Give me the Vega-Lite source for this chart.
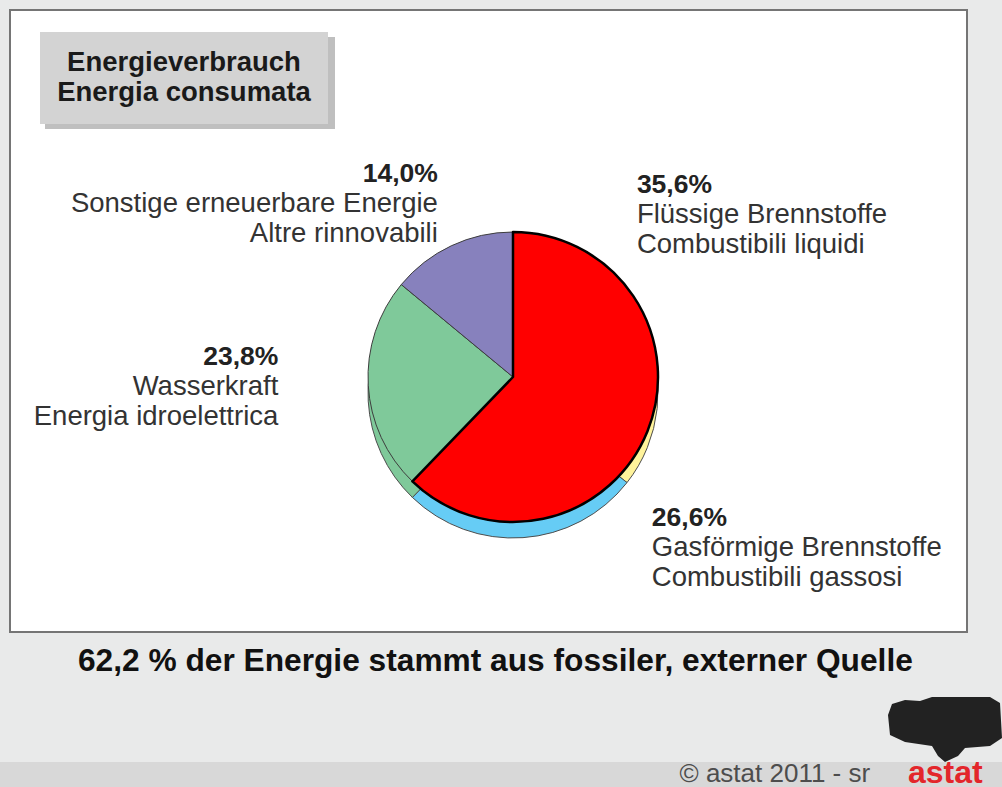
{
  "$schema": "https://vega.github.io/schema/vega-lite/v6.json",
  "width": 957,
  "height": 622,
  "autosize": {"type": "none"},
  "padding": {"left": 10, "top": 10, "right": 35, "bottom": 155},
  "background": "#e9eaea",
  "view": {"fill": "#ffffff", "stroke": "#757575", "strokeWidth": 2},
  "config": {
    "view": {"fill": "#ffffff", "stroke": "#757575", "strokeWidth": 2},
    "legend": {"gradientHorizontalMaxLength": 1100, "gradientHorizontalMinLength": 10}
  },
  "datasets": {
    "top": [
      {"cat": "Fossil", "v": 62.2, "o": 1},
      {"cat": "Wasser", "v": 23.8, "o": 2},
      {"cat": "Sonstige", "v": 14.0, "o": 3}
    ],
    "rim": [
      {"cat": "Flüssige", "v": 35.6, "o": 1, "pct": "35,6%", "name": "Flüssige Brennstoffe\nCombustibili liquidi"},
      {"cat": "Gas", "v": 26.6, "o": 2, "pct": "26,6%", "name": "Gasförmige Brennstoffe\nCombustibili gassosi"},
      {"cat": "Wasser", "v": 23.8, "o": 3, "pct": "23,8%", "name": "Wasserkraft\nEnergia idroelettrica"},
      {"cat": "Sonstige", "v": 14.0, "o": 4, "pct": "14,0%", "name": "Sonstige erneuerbare Energie\nAltre rinnovabili"}
    ]
  },
  "layer": [
    {
      "data": {"name": "rim"},
      "mark": {"type": "arc", "radius": 145, "xOffset": 24.5, "yOffset": 72, "stroke": "#4d4d4d", "strokeWidth": 1},
      "encoding": {
        "theta": {"field": "v", "type": "quantitative", "stack": true},
        "order": {"field": "o", "type": "quantitative"},
        "color": {
          "field": "cat", "type": "nominal",
          "scale": {"domain": ["Flüssige", "Gas", "Wasser", "Sonstige"], "range": ["#fff39b", "#66ccf5", "#7fc99a", "#8781bd"]},
          "legend": {
            "orient": "none", "legendX": 68, "legendY": 636,
            "title": "62,2 % der Energie stammt aus fossiler, externer Quelle",
            "titleFont": "Liberation Sans", "titleFontSize": 31.7, "titleFontWeight": "bold", "titleColor": "#111111",
            "titleLimit": 1200, "titlePadding": 0, "padding": 0,
            "values": ["Flüssige"], "symbolSize": 0, "symbolOpacity": 0, "symbolStrokeWidth": 0,
            "labelExpr": "''", "labelFontSize": 1, "direction": "horizontal", "zindex": 1
          }
        }
      }
    },
    {
      "data": {"name": "top"},
      "mark": {"type": "arc", "radius": 145, "xOffset": 24.5, "yOffset": 56, "stroke": "#3d3d3d", "strokeWidth": 1},
      "encoding": {
        "theta": {"field": "v", "type": "quantitative", "stack": true},
        "order": {"field": "o", "type": "quantitative"},
        "color": {
          "field": "cat", "type": "nominal",
          "scale": {"domain": ["Fossil", "Wasser", "Sonstige"], "range": ["#ff0000", "#7fc99a", "#8781bd"]},
          "legend": {
            "orient": "none", "legendX": 30, "legendY": 22,
            "title": ["Energieverbrauch", "Energia consumata"],
            "titleFont": "Liberation Sans", "titleFontSize": 27.5, "titleFontWeight": "bold", "titleColor": "#1a1a1a",
            "titleLineHeight": 30, "titleAlign": "center", "titleAnchor": "middle", "titleLimit": 1000, "titlePadding": 0,
            "fillColor": "#d3d3d3", "padding": 17,
            "values": ["Fossil"], "symbolSize": 0, "symbolOpacity": 0, "symbolStrokeWidth": 0,
            "labelExpr": "''", "labelFontSize": 1, "direction": "horizontal", "zindex": 1
          }
        }
      }
    },
    {
      "data": {"name": "top"},
      "mark": {"type": "arc", "radius": 145, "xOffset": 24.5, "yOffset": 56, "fillOpacity": 0, "stroke": "#000000", "strokeWidth": 2.5, "strokeJoin": "round"},
      "encoding": {
        "theta": {"field": "v", "type": "quantitative", "stack": true},
        "order": {"field": "o", "type": "quantitative"},
        "detail": {"field": "cat", "type": "nominal"},
        "strokeOpacity": {"condition": {"test": "datum.cat === 'Fossil'", "value": 1}, "value": 0}
      }
    },
    {
      "data": {"name": "rim"},
      "mark": {
        "type": "text", "radius": 200, "xOffset": 24.5, "yOffset": 56, "strokeWidth": 0,
        "font": "Liberation Sans", "fontSize": 26.5, "fontWeight": "bold", "baseline": "alphabetic",
        "align": {"expr": "datum.cat === 'Flüssige' || datum.cat === 'Gas' ? 'left' : 'right'"},
        "dx": {"expr": "datum.cat === 'Sonstige' ? 10 : datum.cat === 'Flüssige' ? -56 : datum.cat === 'Wasser' ? -35 : 125"},
        "dy": {"expr": "datum.cat === 'Sonstige' ? -14 : datum.cat === 'Flüssige' ? -96.6 : datum.cat === 'Wasser' ? -23.3 : -50.5"}
      },
      "encoding": {
        "theta": {"field": "v", "type": "quantitative", "stack": true},
        "order": {"field": "o", "type": "quantitative"},
        "text": {"field": "pct", "type": "nominal"},
        "color": {
          "field": "cat", "type": "nominal",
          "scale": {"range": ["#222222"]},
          "legend": {
            "orient": "none", "legendX": 898, "legendY": 731.7,
            "title": "astat", "titleFont": "Liberation Sans", "titleFontSize": 32, "titleFontWeight": "bold", "titleColor": "#e3262b",
            "titleOrient": "bottom", "titlePadding": -4, "padding": 0,
            "values": ["Flüssige"],
            "symbolType": "M-5,-6.34 L-4.2,-8.54 L-1.6,-9.34 L1.4,-9.14 L3.8,-9.94 L15.4,-9.94 L17.4,-8.74 L17.8,-1.74 L15.4,-0.14 L10.4,0.26 L9,1.86 L6.4,3.06 L5,1.86 L3.8,-0.14 L-1.6,-0.94 L-4.6,-2.34 Z",
            "symbolSize": 100, "symbolStrokeWidth": 0, "symbolOpacity": 1,
            "labelExpr": "''", "labelFontSize": 1, "zindex": 2
          }
        },
        "stroke": {
          "field": "v", "type": "quantitative",
          "scale": {"range": ["#bfbfbf", "#bfbfbf"]},
          "legend": {
            "orient": "none", "legendX": 35, "legendY": 27, "direction": "horizontal",
            "gradientLength": 290, "gradientThickness": 92, "title": null,
            "labelExpr": "''", "labelFontSize": 1, "values": [],
            "gradientStrokeWidth": 0, "padding": 0, "zindex": 0
          }
        }
      }
    },
    {
      "data": {"name": "rim"},
      "mark": {
        "type": "text", "radius": 200, "xOffset": 24.5, "yOffset": 56,
        "font": "Liberation Sans", "fontSize": 27.5, "baseline": "alphabetic", "lineBreak": "\n", "lineHeight": 30, "strokeWidth": 0,
        "align": {"expr": "datum.cat === 'Flüssige' || datum.cat === 'Gas' ? 'left' : 'right'"},
        "dx": {"expr": "datum.cat === 'Sonstige' ? 10 : datum.cat === 'Flüssige' ? -56 : datum.cat === 'Wasser' ? -35 : 125"},
        "dy": {"expr": "datum.cat === 'Sonstige' ? 16 : datum.cat === 'Flüssige' ? -66.6 : datum.cat === 'Wasser' ? 6.7 : -20.5"}
      },
      "encoding": {
        "theta": {"field": "v", "type": "quantitative", "stack": true},
        "order": {"field": "o", "type": "quantitative"},
        "text": {"field": "name", "type": "nominal"},
        "color": {
          "field": "cat", "type": "nominal",
          "scale": {"range": ["#333333"]},
          "legend": {
            "orient": "none", "legendX": 669.5, "legendY": 751,
            "title": "©  astat 2011 - sr", "titleFont": "Liberation Sans", "titleFontSize": 26, "titleFontWeight": "normal", "titleColor": "#4d4d4d",
            "titlePadding": 0, "padding": 0, "titleLimit": 1000,
            "values": ["Flüssige"], "symbolSize": 0, "symbolOpacity": 0, "symbolStrokeWidth": 0,
            "labelExpr": "''", "labelFontSize": 1, "zindex": 1
          }
        },
        "stroke": {
          "field": "v", "type": "quantitative",
          "scale": {"range": ["#d8d8d8", "#d8d8d8"]},
          "legend": {
            "orient": "none", "legendX": -10, "legendY": 752, "direction": "horizontal",
            "gradientLength": 1002, "gradientThickness": 25, "title": null,
            "labelExpr": "''", "labelFontSize": 1, "values": [],
            "gradientStrokeWidth": 0, "padding": 0, "zindex": 0
          }
        }
      }
    }
  ],
  "resolve": {"scale": {"color": "independent", "stroke": "independent"}, "legend": {"color": "independent", "stroke": "independent"}}
}
